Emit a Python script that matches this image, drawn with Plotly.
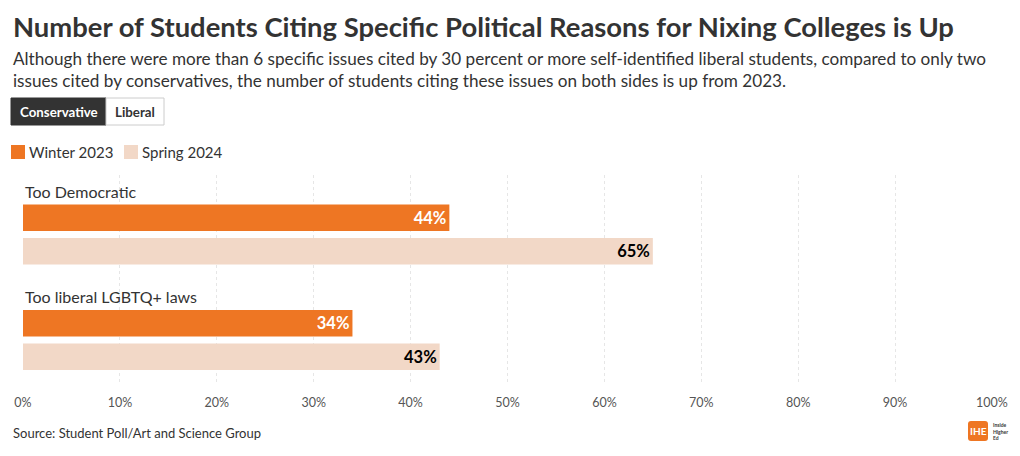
import plotly.graph_objects as go

categories = ["Too Democratic", "Too liberal LGBTQ+ laws"]
series_names = ["Winter 2023", "Spring 2024"]
winter_2023 = [44, 34]
spring_2024 = [65, 43]
tick_values = [0, 10, 20, 30, 40, 50, 60, 70, 80, 90, 100]
tick_labels = [f"{v}%" for v in tick_values]

ORANGE = "#EE7623"
BEIGE = "#F2D8C7"
DARK = "#333333"
FONT = "Lato"

W, H = 1020, 456
L, R = 23, 992      # plot area pixel x extent
T, B = 175, 385     # plot area pixel y extent


def px(x):
    return (x - L) / (R - L)


def py(y):
    return (B - y) / (B - T)


fig = go.Figure()
fig.add_trace(go.Bar(
    y=categories, x=winter_2023, name=series_names[0], orientation="h",
    marker=dict(color=ORANGE, line=dict(width=0)),
    text=[f"{v}%" for v in winter_2023], textposition="inside",
    insidetextanchor="end",
    insidetextfont=dict(family=FONT, size=16.5, color="white", weight="bold"),
    showlegend=False, hoverinfo="skip",
))
fig.add_trace(go.Bar(
    y=categories, x=spring_2024, name=series_names[1], orientation="h",
    marker=dict(color=BEIGE, line=dict(width=0)),
    text=[f"{v}%" for v in spring_2024], textposition="inside",
    insidetextanchor="end",
    insidetextfont=dict(family=FONT, size=16.5, color="#000000", weight="bold"),
    showlegend=False, hoverinfo="skip",
))

annotations = []
shapes = []


def text_at(x, y, text, size, color=DARK, xanchor="left", align="left"):
    annotations.append(dict(
        x=px(x), xref="paper", y=py(y), yref="paper",
        xanchor=xanchor, yanchor="middle", showarrow=False, align=align,
        text=text, font=dict(family=FONT, size=size, color=color),
    ))


# category labels above bar groups
for c in categories:
    annotations.append(dict(
        x=0, xref="paper", y=c, yref="y", yshift=43, xanchor="left",
        yanchor="middle", showarrow=False, text=c,
        font=dict(family=FONT, size=16, color=DARK),
    ))

# title & subtitle
text_at(11, 26, "<b>Number of Students Citing Specific Political Reasons for Nixing Colleges is Up</b>", 27.4)
text_at(11, 69, ("Although there were more than 6 specific issues cited by 30 percent or more self-identified liberal students, compared to only two<br>"
                 "issues cited by conservatives, the number of students citing these issues on both sides is up from 2023."), 17.15)

# toggle buttons
shapes.append(dict(type="rect", xref="paper", yref="paper",
                   x0=px(11), x1=px(106), y0=py(125), y1=py(98),
                   fillcolor=DARK, line=dict(color=DARK, width=1)))
shapes.append(dict(type="rect", xref="paper", yref="paper",
                   x0=px(106), x1=px(164), y0=py(125), y1=py(98),
                   fillcolor="white", line=dict(color="#cccccc", width=1)))
text_at(58.5, 111.5, "<b>Conservative</b>", 13.3, color="white", xanchor="center", align="center")
text_at(135, 111.5, "<b>Liberal</b>", 13.3, color=DARK, xanchor="center", align="center")

# legend
leg = [(11, series_names[0], ORANGE), (124, series_names[1], BEIGE)]
for x0, name, col in leg:
    shapes.append(dict(type="rect", xref="paper", yref="paper",
                       x0=px(x0), x1=px(x0 + 14), y0=py(159), y1=py(145),
                       fillcolor=col, line=dict(width=0)))
    text_at(x0 + 16, 152, name, 15)

# source
text_at(11, 433, "Source: Student Poll/Art and Science Group", 13)

# logo
shapes.append(dict(type="path", xref="paper", yref="paper",
                   path=(f"M {px(971)},{py(421)} L {px(985)},{py(421)} "
                         f"Q {px(988)},{py(421)} {px(988)},{py(424)} L {px(988)},{py(438)} "
                         f"Q {px(988)},{py(441)} {px(985)},{py(441)} L {px(971)},{py(441)} "
                         f"Q {px(968)},{py(441)} {px(968)},{py(438)} L {px(968)},{py(424)} "
                         f"Q {px(968)},{py(421)} {px(971)},{py(421)} Z"),
                   fillcolor=ORANGE, line=dict(width=0)))
text_at(978, 431, "<b>IHE</b>", 10, color="white", xanchor="center", align="center")
text_at(991, 431, "<b>Inside<br>Higher<br>Ed</b>", 5)

fig.update_layout(
    width=W, height=H,
    margin=dict(l=L, r=W - R, t=T, b=H - B, pad=0),
    paper_bgcolor="white", plot_bgcolor="white",
    barmode="group", bargap=0.365, bargroupgap=0.209,
    font=dict(family=FONT, color=DARK),
    showlegend=False,
    xaxis=dict(range=[0, 100], tickvals=tick_values, ticktext=tick_labels,
               showgrid=True, gridcolor="#e6e6e6", griddash="3px,3px",
               gridwidth=1, zeroline=False, showline=False,
               ticks="outside", ticklen=6, tickcolor="rgba(0,0,0,0)",
               tickfont=dict(family=FONT, size=12.5, color="#555555"),
               fixedrange=True),
    yaxis=dict(range=[1.427, -0.564], showticklabels=False, showgrid=False,
               zeroline=False, showline=False, fixedrange=True),
    annotations=annotations, shapes=shapes,
)

fig.write_html(
    "out.html",
    config={"displayModeBar": False},
    post_script="document.body.style.margin='0';document.body.style.overflow='hidden';",
)
